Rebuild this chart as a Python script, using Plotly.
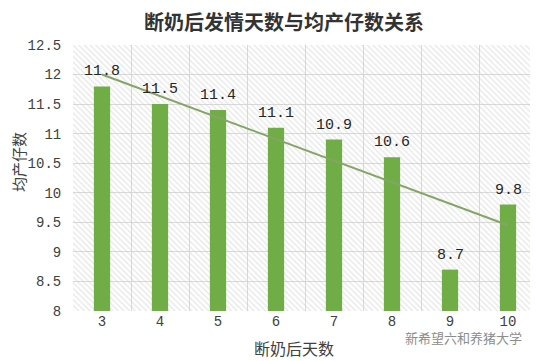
import numpy as np
import plotly.graph_objects as go

# ---- data ----
days = [3, 4, 5, 6, 7, 8, 9, 10]
litter = [11.8, 11.5, 11.4, 11.1, 10.9, 10.6, 8.7, 9.8]
y_ticks = [8, 8.5, 9, 9.5, 10, 10.5, 11, 11.5, 12, 12.5]
y_tick_text = ["8", "8.5", "9", "9.5", "10", "10.5", "11", "11.5", "12", "12.5"]

title_text = "断奶后发情天数与均产仔数关系"
x_title = "断奶后天数"
y_title = "均产仔数"
logo_text = "新希望六和养猪大学"

slope, intercept = np.polyfit(days, litter, 1)
trend = [slope * d + intercept for d in days]

# page body has an 8px margin, so the figure is offset by 8px
OFF = 8
PAGE_W, PAGE_H = 538, 361
W, H = PAGE_W - OFF, PAGE_H - OFF
L, R, T, B = 73 - OFF, 1, 45 - OFF, PAGE_H - 311
pw, ph = W - L - R, H - T - B


def px(xp):  # page pixel -> paper x
    return (xp - OFF - L) / pw


def py(yp):  # page pixel -> paper y
    return (H - B - (yp - OFF)) / ph


xmin, xmax = days[0] - 0.5, days[-1] + 0.5
ymin, ymax = 8, 12.5
mono = "Liberation Mono, DejaVu Sans Mono, monospace"
cjk = "Noto Sans CJK SC, sans-serif"

fig = go.Figure()

# hatched plot background
fig.add_trace(go.Bar(
    x=[(xmin + xmax) / 2], y=[ymax - ymin], base=[ymin], width=[xmax - xmin],
    marker=dict(color="rgba(0,0,0,0)", line=dict(width=0),
                pattern=dict(shape="\\", fgcolor="#cccccc", bgcolor="rgba(0,0,0,0)",
                             size=4, solidity=0.3)),
    hoverinfo="skip", showlegend=False,
))

fig.add_trace(go.Bar(
    x=days, y=[v - ymin for v in litter], base=ymin,
    width=0.28, marker=dict(color="#70ad47", line=dict(width=0)),
    showlegend=False,
))

fig.add_trace(go.Scatter(
    x=days, y=trend, mode="lines",
    line=dict(color="#84a566", width=2),
    showlegend=False,
))

annotations = []
for d, v in zip(days, litter):
    annotations.append(dict(
        x=d, y=v, xref="x", yref="y", text=f"{v:g}", showarrow=False,
        xanchor="center", yanchor="bottom", yshift=4,
        font=dict(family=mono, size=15, color="#262626"),
    ))

annotations += [
    dict(x=px(284), y=py(22), xref="paper", yref="paper", text=f"<b>{title_text}</b>",
         xanchor="center", yanchor="middle",
         showarrow=False, font=dict(family=cjk, size=20, color="#333333")),
    dict(x=px(294), y=py(348), xref="paper", yref="paper", text=x_title,
         xanchor="center", yanchor="middle",
         showarrow=False, font=dict(family=cjk, size=16, color="#404040")),
    dict(x=px(18), y=py(162), xref="paper", yref="paper", text=y_title, textangle=-90,
         xanchor="center", yanchor="middle",
         showarrow=False, font=dict(family=cjk, size=15, color="#404040")),
    dict(x=px(463), y=py(337), xref="paper", yref="paper", text=logo_text,
         xanchor="center", yanchor="middle",
         showarrow=False, font=dict(family=cjk, size=13, color="#8c8c8c")),
]

fig.update_layout(
    width=W, height=H,
    margin=dict(l=L, r=R, t=T, b=B),
    paper_bgcolor="white", plot_bgcolor="white",
    showlegend=False,
    barmode="overlay",
    xaxis=dict(range=[xmin, xmax], tickvals=days, ticktext=[str(d) for d in days],
               showgrid=False, ticks="", showline=False, zeroline=False,
               minor=dict(tick0=xmin, dtick=1, showgrid=True, gridcolor="#d9d9d9",
                          gridwidth=1, ticks=""),
               tickfont=dict(family=mono, size=14, color="#404040")),
    yaxis=dict(range=[ymin, ymax], tickvals=y_ticks, ticktext=y_tick_text,
               showgrid=True, gridcolor="#d9d9d9", gridwidth=1,
               ticks="outside", ticklen=8, tickcolor="rgba(0,0,0,0)",
               showline=False, zeroline=False,
               tickfont=dict(family=mono, size=14, color="#404040")),
    annotations=annotations,
)

fig.write_html("out.html")
